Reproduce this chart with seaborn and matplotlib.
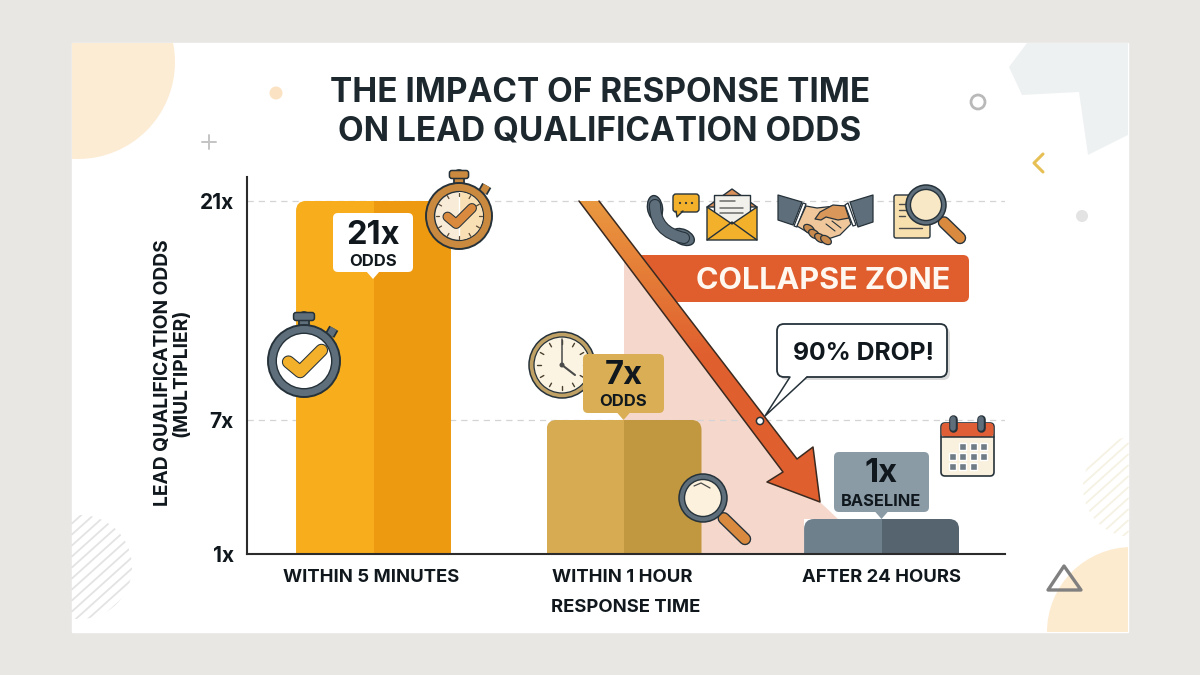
import numpy as np
import pandas as pd
import seaborn as sns
import matplotlib
matplotlib.use("Agg")
import matplotlib.pyplot as plt
from matplotlib.patches import Circle, Ellipse, FancyBboxPatch, PathPatch, Polygon, Rectangle
from matplotlib.path import Path
from matplotlib.colors import LinearSegmentedColormap

# Chart values
windows = ["WITHIN 5 MINUTES", "WITHIN 1 HOUR", "AFTER 24 HOURS"]
odds = [21, 7, 1]
captions = ["ODDS", "ODDS", "BASELINE"]
tick_values = [0, 7, 21]
tick_labels = ["1x", "7x", "21x"]

# Palette
FONT = "Inter"
INK = "#10181d"
DARK = "#26323a"
SLATE = "#5e6e7b"
AMBER = "#f3b02a"
ORANGE = "#d98a3f"
CREAM = "#fbf1dc"
light_tones = ["#f8ae1c", "#d7ab52", "#6f808d"]
dark_tones = ["#ee9a10", "#c1973f", "#56646f"]
badge_fill = ["#ffffff", "#d9ae55", "#8a9ba6"]

sns.set_theme(style="white")
plt.rcParams["font.family"] = [FONT, "DejaVu Sans"]

fig = plt.figure(figsize=(12, 6.75), dpi=100, facecolor="#e8e7e4")


def overlay(z):
    a = fig.add_axes([0, 0, 1, 1], zorder=z)
    a.set_xlim(0, 1200)
    a.set_ylim(675, 0)
    a.axis("off")
    return a


bg = overlay(0)
fg = overlay(5)

# Main axes: the odds axis is stretched between its labelled levels
ax = fig.add_axes([247 / 1200, (675 - 554) / 675, 758 / 1200, 377 / 675], zorder=2)
ax.patch.set_alpha(0)
level_anchor = [0, 1, 7, 21, 30]
height_anchor = [0, 35, 134, 353, 494]
ax.set_yscale("function", functions=(
    lambda v: np.interp(v, level_anchor, height_anchor),
    lambda h: np.interp(h, height_anchor, level_anchor),
))

rows = pd.DataFrame({
    "window": windows * 2,
    "odds": odds * 2,
    "tone": ["light"] * 3 + ["dark"] * 3,
})
sns.barplot(data=rows, x="window", y="odds", hue="tone", width=0.61, gap=0, dodge=True,
            legend=False, saturation=1, ax=ax)
ax.set_xlim(-0.498, 2.486)
ax.set_ylim(0, 22.53)

ax.set_yticks(tick_values, tick_labels)
ax.minorticks_off()
ax.set_xticks([-0.01, 0.98, 2.0], windows)
ax.tick_params(axis="both", length=0, colors=INK)
ax.tick_params(axis="x", pad=10.5, labelsize=13.3)
ax.tick_params(axis="y", pad=9.5, labelsize=15)
for t in ax.get_xticklabels() + ax.get_yticklabels():
    t.set_fontweight("bold")
ax.set_xlabel("RESPONSE TIME", fontsize=13.3, fontweight="bold", color=INK, labelpad=10)
ax.set_ylabel("LEAD QUALIFICATION ODDS\n(MULTIPLIER)", fontsize=13.8, fontweight="bold",
              color=INK, linespacing=1.0)
ax.yaxis.set_label_coords(-0.075, 0.48)
ax.yaxis.grid(True, color="#d4d4d4", linestyle=(0, (5, 4)), linewidth=0.9)
ax.xaxis.grid(False)
ax.set_axisbelow(True)
sns.despine(ax=ax)
for side in ("left", "bottom"):
    ax.spines[side].set_color("#2b2b2b")
    ax.spines[side].set_linewidth(1.5)

fig.canvas.draw()

# Shade and round each bar, the middle bar sitting a touch left of its slot
for i in range(3):
    left_bar, right_bar = ax.containers[0][i], ax.containers[1][i]
    if i == 1:
        for b in (left_bar, right_bar):
            b.set_x(b.get_x() - 3.5 / 254)
    left_bar.set_facecolor(light_tones[i])
    right_bar.set_facecolor(dark_tones[i])
    x0, y0 = ax.transData.transform((left_bar.get_x(), 0))
    x1, y1 = ax.transData.transform((right_bar.get_x() + right_bar.get_width(), odds[i]))
    py0, py1 = 675 - y0, 675 - y1
    clip = FancyBboxPatch((x0 + 9, py1 + 9), x1 - x0 - 18, py0 - py1 + 20,
                          boxstyle="round,pad=9,rounding_size=10", transform=fg.transData)
    left_bar.set_clip_path(clip)
    right_bar.set_clip_path(clip)
    left_bar.set_edgecolor("none")
    right_bar.set_edgecolor("none")


# ---- drawing helpers, all in figure pixels with y pointing down ----
def poly(a, pts, fc="none", ec="none", lw=0, z=3, **kw):
    p = Polygon(pts, closed=True, facecolor=fc, edgecolor=ec, linewidth=lw, zorder=z,
                joinstyle="round", **kw)
    a.add_patch(p)
    return p


def disc(a, x, y, r, fc="none", ec="none", lw=0, z=3):
    c = Circle((x, y), r, facecolor=fc, edgecolor=ec, linewidth=lw, zorder=z)
    a.add_patch(c)
    return c


def rbox(a, x0, y0, x1, y1, r, fc="none", ec="none", lw=0, z=3):
    b = FancyBboxPatch((x0 + r, y0 + r), x1 - x0 - 2 * r, y1 - y0 - 2 * r,
                       boxstyle=f"round,pad={r},rounding_size={r}",
                       facecolor=fc, edgecolor=ec, linewidth=lw, zorder=z)
    a.add_patch(b)
    return b


def seg(a, pts, color=DARK, lw=1.0, z=3, cap="round"):
    xs, ys = zip(*pts)
    a.plot(xs, ys, color=color, lw=lw, zorder=z, solid_capstyle=cap, solid_joinstyle="round")


def stopwatch(a, cx, cy, r, ring, face, check, knob, inner=0.77, check_scale=1.0,
              z=6, ticks=False, half=None):
    seg(a, [(cx, cy - r - 8), (cx, cy - r + 2)], DARK, 8.5, z)
    seg(a, [(cx, cy - r - 8), (cx, cy - r + 2)], knob, 6, z)
    rbox(a, cx - r * 0.29, cy - r - 12.5, cx + r * 0.29, cy - r - 4.5, 2.5, knob, DARK, 1.1, z)
    ang = np.deg2rad(42)
    kx, ky = cx + (r + 4) * np.sin(ang), cy - (r + 4) * np.cos(ang)
    seg(a, [(kx - 1, ky + 4), (kx + 3, ky - 3)], DARK, 7.5, z, "butt")
    seg(a, [(kx - 1, ky + 4), (kx + 3, ky - 3)], knob, 5, z, "butt")
    disc(a, cx, cy, r, ring, DARK, 1.4, z)
    disc(a, cx, cy, r * inner, face, DARK, 1.0, z)
    if half:
        wedge = Polygon([(cx, cy - r), (cx + r, cy - r), (cx + r, cy + r), (cx, cy + r)],
                        facecolor=half, zorder=z)
        a.add_patch(wedge)
        wedge.set_clip_path(Circle((cx, cy), r * inner - 0.5, transform=a.transData))
    if ticks:
        for k in range(12):
            th = k * np.pi / 6
            seg(a, [(cx + r * (inner - 0.13) * np.sin(th), cy - r * (inner - 0.13) * np.cos(th)),
                    (cx + r * (inner - 0.03) * np.sin(th), cy - r * (inner - 0.03) * np.cos(th))],
                "#5b4a35", 0.9, z)
    s = r / 37 * check_scale
    pts = [(cx - 16 * s, cy + 1 * s), (cx - 4 * s, cy + 11 * s), (cx + 18 * s, cy - 11 * s)]
    seg(a, pts, DARK, 8.2 * s + 1.5, z)
    seg(a, pts, check, 8.2 * s, z)


def magnifier(a, cx, cy, r, hx, hy, face=CREAM, z=6):
    ux, uy = (hx - cx), (hy - cy)
    d = np.hypot(ux, uy)
    ux, uy = ux / d, uy / d
    sx, sy = cx + ux * (r - 2), cy + uy * (r - 2)
    seg(a, [(sx, sy), (sx + ux * 5, sy + uy * 5)], DARK, 5, z)
    seg(a, [(sx + ux * 6, sy + uy * 6), (hx, hy)], DARK, 9, z)
    seg(a, [(sx + ux * 6, sy + uy * 6), (hx, hy)], ORANGE, 7, z)
    disc(a, cx, cy, r - 1, SLATE, DARK, 1.1, z)
    disc(a, cx, cy, r * 0.74, face, DARK, 1.0, z)


# ---- panel and ornaments ----
bg.add_patch(Rectangle((72, 43), 1056, 589, facecolor="white", zorder=0.5))
panel_clip = Rectangle((72, 43), 1056, 589, transform=bg.transData)

for shape in (
    Circle((78, 62), 97, facecolor="#fcecd4", edgecolor="none", zorder=1),
    Circle((1132, 632), 85, facecolor="#fdebd0", edgecolor="none", zorder=1),
    Polygon([(1027, 43), (1009, 67), (1022, 95), (1079, 92), (1088, 155), (1128, 135), (1128, 43)],
            facecolor="#eef1f2", edgecolor="none", zorder=1),
):
    bg.add_patch(shape)
    shape.set_clip_path(panel_clip)

disc(bg, 276, 93, 6.5, "#fbe2c3", z=1)
seg(bg, [(202, 142), (216, 142)], "#c4c4c4", 1.4, 1)
seg(bg, [(209, 135), (209, 149)], "#c4c4c4", 1.4, 1)
disc(bg, 978, 102, 7, "none", "#b9b9b9", 2.0, 1)
seg(bg, [(1043, 154), (1034, 163), (1043, 172)], "#e6bf55", 2.2, 1)
disc(bg, 1082, 216, 6, "#e3e3e3", z=1)
poly(bg, [(1064, 566), (1048, 590), (1081, 590)], "none", "#808080", 2.4, 1)

# Striped discs that bleed off the panel edges
for (cx, cy, r, col) in [(80, 567, 52, "#e3e3e3"), (1133, 487, 50, "#f5f2e3")]:
    for off in np.arange(-r * 1.4, r * 1.4, 11):
        xs = np.clip(np.array([cx - r, cx + r]), 72, 1128)
        ln, = bg.plot(xs, cy - (xs - cx) * 0.9 + off, color=col, lw=1.3, zorder=1)
        ln.set_clip_path(Circle((cx, cy), r, transform=bg.transData))
bg.set_xlim(0, 1200)
bg.set_ylim(675, 0)

# Collapse-zone wedge behind the bars, tucked along the arrow
poly(bg, [(624, 255), (640, 255), (800, 465), (820, 502), (838, 519), (804, 519), (804, 554), (624, 554)],
     "#f5d7cc", z=1.5)

# Title
fg.text(600, 93, "THE IMPACT OF RESPONSE TIME", ha="center", va="center",
        fontsize=24, fontweight="bold", color="#1d282e", zorder=10)
fg.text(600, 131, "ON LEAD QUALIFICATION ODDS", ha="center", va="center",
        fontsize=24, fontweight="bold", color="#1d282e", zorder=10)

# Icons that sit behind the value badges
stopwatch(fg, 304, 361, 36, SLATE, "white", AMBER, SLATE)
stopwatch(fg, 459, 216, 33, "#c98a3f", "#f8ecd8", ORANGE, "#c98a3f", inner=0.74,
          check_scale=0.8, ticks=True, half="#f9dfb4")

# Wall clock
disc(fg, 562, 365, 33, "#bfa065", DARK, 1.1, 6)
disc(fg, 562, 365, 28, "#fbf4e2", DARK, 0.9, 6)
for k in range(12):
    th = k * np.pi / 6
    seg(fg, [(562 + 21 * np.sin(th), 365 - 21 * np.cos(th)),
             (562 + 25 * np.sin(th), 365 - 25 * np.cos(th))], "#4a3f2e", 1.0, 6)
seg(fg, [(562, 365), (562, 339)], "#4a4a4a", 1.1, 6)
seg(fg, [(562, 365), (575, 375)], "#4a4a4a", 1.5, 6)
disc(fg, 562, 365, 2.5, "#4a4a4a", z=6)

# Value badges with a small pointer down to their bar
badge_boxes = [(333, 213, 413, 272), (583, 354, 664, 413), (834, 452, 929, 512)]
big_y = [235, 376, 474]
small_y = [261, 402, 501]
small_size = [12, 12, 11.8]
for i, v in enumerate(odds):
    x0, y0, x1, y1 = badge_boxes[i]
    cx = (x0 + x1) / 2
    rbox(fg, x0, y0, x1, y1, 5, badge_fill[i], z=7)
    poly(fg, [(cx - 7, y1 - 1), (cx + 7, y1 - 1), (cx, y1 + 7)], badge_fill[i], z=7)
    fg.text(cx, big_y[i], f"{v}x", ha="center", va="center", fontsize=23.5, fontweight="bold",
            color=INK, zorder=8)
    fg.text(cx, small_y[i], captions[i], ha="center", va="center", fontsize=small_size[i],
            fontweight="bold", color=INK, zorder=8)

magnifier(fg, 703, 498, 25, 745, 539)
seg(fg, [(694, 486), (701, 483), (710, 488)], "#4a4a4a", 0.9, 6)

# Calendar
rbox(fg, 941, 423, 994, 476, 4, "#f9f1dd", DARK, 1.2, 6)
rbox(fg, 941.5, 423, 993.5, 437, 4, "#e05e35", z=6)
seg(fg, [(941, 437), (994, 437)], DARK, 1.1, 6)
for x in (953, 981):
    seg(fg, [(x, 419), (x, 428)], DARK, 6.2, 6)
    seg(fg, [(x, 419), (x, 428)], SLATE, 4, 6)
for r_i, y in enumerate((446, 456, 466)):
    cols = [(962, 973, 983), (952, 962, 973, 983), (952, 962, 973)][r_i]
    for x in cols:
        fg.add_patch(Rectangle((x - 3.5, y - 3.5), 7, 7, facecolor="#6f7b85", zorder=6))

# Collapse-zone banner, its left end tucked under the arrow
banner = rbox(fg, 600, 255, 969, 302, 6, "#e05e2e", z=4)
banner.set_clip_path(Polygon([(632, 250), (1000, 250), (1000, 310), (672, 310)], transform=fg.transData))
fg.text(823, 281, "COLLAPSE ZONE", ha="center", va="center", fontsize=22, fontweight="bold",
        color="#fff8f0", zorder=5)

# Falling arrow with a top-to-bottom colour shift
arrow_pts = [(579, 201), (599, 201), (797, 459), (813, 447), (820, 502), (767, 482), (783, 472)]
ramp = LinearSegmentedColormap.from_list("fall", ["#ea9a40", "#e0602f", "#df5f30"])
img = fg.imshow(np.linspace(0, 1, 256)[:, None], cmap=ramp, extent=(560, 830, 510, 195),
                aspect="auto", zorder=5.1, interpolation="bilinear")
img.set_clip_path(Polygon(arrow_pts, closed=True, transform=fg.transData))
seg(fg, [(579, 201), (783, 472), (767, 482), (820, 502), (813, 447), (797, 459), (599, 201)],
    "#3a2a20", 1.1, 5.2)
fg.set_xlim(0, 1200)
fg.set_ylim(675, 0)

# Drop callout
rbox(fg, 780, 327, 950, 380, 7, "#d9d9d9", z=5.4)
rbox(fg, 777, 324, 947, 377, 7, "white", DARK, 1.3, 5.5)
poly(fg, [(790, 376), (807, 376), (765, 416)], "white", z=5.6)
seg(fg, [(790, 377), (765, 416), (807, 377)], DARK, 1.1, 5.6)
fg.text(863, 353, "90% DROP!", ha="center", va="center", fontsize=17.8, fontweight="bold",
        color=INK, zorder=6)
disc(fg, 760, 421, 3.6, "white", DARK, 1.1, 6)

# Phone with chat bubble
handset_path = Path([(655, 205), (655, 232), (684, 238)], [Path.MOVETO, Path.CURVE3, Path.CURVE3])
fg.add_patch(PathPatch(handset_path, facecolor="none", edgecolor=DARK, linewidth=8.8,
                       capstyle="round", zorder=6))
fg.add_patch(PathPatch(handset_path, facecolor="none", edgecolor=SLATE, linewidth=7.2,
                       capstyle="round", zorder=6))
fg.add_patch(Ellipse((655, 208), 15, 25, angle=-8, facecolor=SLATE, edgecolor=DARK, lw=1, zorder=5.9))
fg.add_patch(Ellipse((683, 237), 24, 15, angle=25, facecolor=SLATE, edgecolor=DARK, lw=1, zorder=5.9))
rbox(fg, 673, 194, 699, 212, 3, AMBER, DARK, 1, 6)
poly(fg, [(676, 211), (683, 211), (677, 217)], AMBER, DARK, 1, 6)
poly(fg, [(676, 210), (683, 210), (678, 213)], AMBER, z=6)
for x in (680, 686, 692):
    disc(fg, x, 203, 1.1, DARK, z=6)

# Envelope
poly(fg, [(707, 207), (732, 189), (757, 207)], "#d9905a", DARK, 1, 6)
poly(fg, [(714, 195), (750, 195), (750, 225), (714, 225)], "#f1f0ea", DARK, 1, 6)
for y, x1 in ((201, 735), (208, 743), (213, 743)):
    seg(fg, [(720, y), (x1, y)], "#6a6a6a", 1.1, 6)
poly(fg, [(707, 207), (732, 224), (757, 207), (757, 240), (707, 240)], AMBER, DARK, 1, 6)
seg(fg, [(707, 240), (732, 222), (757, 240)], DARK, 1, 6)

# Handshake
poly(fg, [(778, 195), (802, 202), (793, 225), (778, 220)], SLATE, DARK, 0.9, 6)
poly(fg, [(873, 195), (850, 202), (858, 227), (873, 222)], SLATE, DARK, 0.9, 6)
poly(fg, [(803, 203), (806, 204), (797, 227), (794, 226)], "white", DARK, 0.9, 6)
poly(fg, [(848, 203), (845, 205), (853, 226), (856, 225)], "white", DARK, 0.9, 6)
poly(fg, [(806, 206), (817, 208), (835, 206), (845, 206), (851, 224), (840, 235), (822, 241), (797, 226)],
     "#f0c79b", DARK, 0.9, 6)
for x, y in ((809, 229), (814, 234), (820, 238), (826, 240)):
    fg.add_patch(Ellipse((x, y), 12, 7.5, angle=35, facecolor="#c98a4e", edgecolor=DARK, lw=0.9, zorder=6))
poly(fg, [(815, 219), (820, 212), (833, 205), (845, 206), (849, 218), (838, 220), (826, 217), (821, 220)],
     "#d9975a", DARK, 0.9, 6.1)
for (a0, b0), (a1, b1) in (((826, 224), (835, 231)), ((832, 221), (841, 228))):
    seg(fg, [(a0, b0), (a1, b1)], DARK, 0.8, 6.1)

# Document under a magnifying glass
rbox(fg, 894, 195, 930, 238, 2, "#f7dfae", DARK, 1, 6)
for y, x1 in ((204, 905), (210, 915), (216, 905), (228, 922)):
    seg(fg, [(899, y), (x1, y)], "#4a4a4a", 1, 6)
magnifier(fg, 926, 205, 21, 960, 238, face="#f9e8c6")

fig.savefig("out.png", dpi=100, facecolor=fig.get_facecolor())
